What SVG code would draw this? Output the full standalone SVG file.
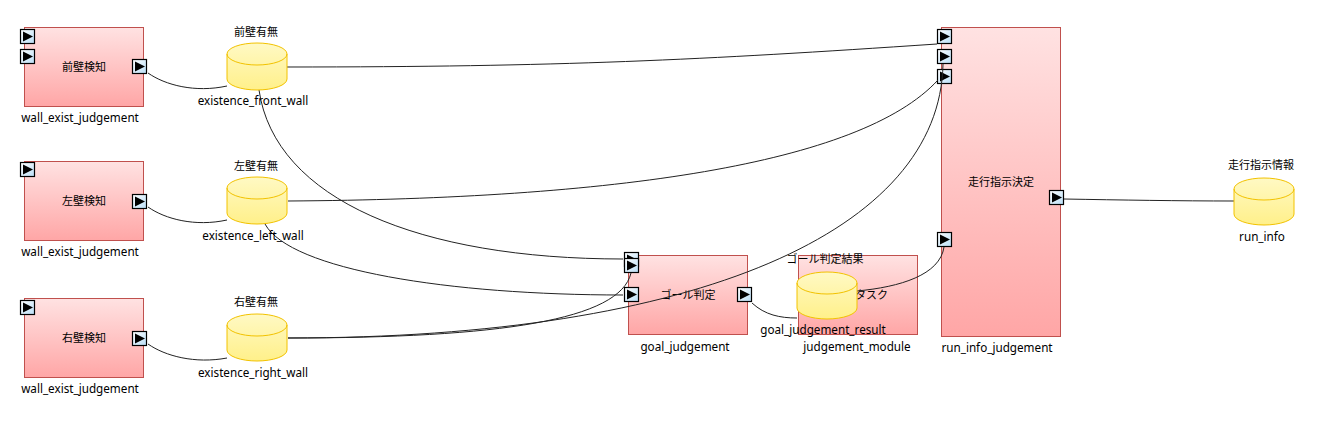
<svg xmlns="http://www.w3.org/2000/svg" xmlns:xlink="http://www.w3.org/1999/xlink" width="1321" height="421" viewBox="0 0 1321 421">
<defs>
<linearGradient id="boxg" x1="0" y1="0" x2="0" y2="1"><stop offset="0" stop-color="#ffe2e2"/><stop offset="1" stop-color="#ffa6a6"/></linearGradient>
<linearGradient id="cylg" x1="0" y1="0" x2="0" y2="1"><stop offset="0" stop-color="#fff9c4"/><stop offset="1" stop-color="#fff08a"/></linearGradient>
<linearGradient id="portg" x1="0" y1="0" x2="1" y2="1"><stop offset="0" stop-color="#ffffff"/><stop offset="1" stop-color="#b9def7"/></linearGradient>
<g id="port"><rect x="0.5" y="0.5" width="14" height="14" fill="url(#portg)" stroke="#000" stroke-width="1.2"/><polygon points="3,2.5 13,7.5 3,12.5" fill="#000"/></g>
<g id="cyl"><path d="M0,11 L0,36 A30,11 0 0 0 60,36 L60,11 A30,11 0 0 0 0,11 Z" fill="url(#cylg)" stroke="#f2c200" stroke-width="1"/><path d="M0,11 A30,11 0 0 0 60,11" fill="none" stroke="#f2c200" stroke-width="1"/></g>
</defs>
<style>
.box{fill:url(#boxg);stroke:#c0504d;stroke-width:1}
.jp{font-family:"Noto Sans CJK JP","Noto Sans",sans-serif;font-size:11px;fill:#000;text-anchor:middle}
.lb{font-family:"Noto Sans","Noto Sans CJK JP",sans-serif;font-size:11.7px;fill:#000;text-anchor:middle}
.c{fill:none;stroke:#222;stroke-width:1}
</style>
<rect width="1321" height="421" fill="#fff"/>

<g id="front_detect">
<rect class="box" x="24.5" y="27.5" width="119" height="79"/>
<use xlink:href="#port" x="20" y="29"/>
<use xlink:href="#port" x="20" y="49"/>
<use xlink:href="#port" x="132" y="59"/>
<text class="jp" x="84" y="71">前壁検知</text>
<text class="lb" x="80" y="122">wall_exist_judgement</text>
</g>
<g id="left_detect">
<rect class="box" x="24.5" y="161.5" width="119" height="79"/>
<use xlink:href="#port" x="20" y="162"/>
<use xlink:href="#port" x="132" y="194"/>
<text class="jp" x="84" y="205">左壁検知</text>
<text class="lb" x="80" y="256">wall_exist_judgement</text>
</g>
<g id="right_detect">
<rect class="box" x="24.5" y="298.5" width="119" height="79"/>
<use xlink:href="#port" x="20" y="300"/>
<use xlink:href="#port" x="132" y="331"/>
<text class="jp" x="84" y="342">右壁検知</text>
<text class="lb" x="80" y="393">wall_exist_judgement</text>
</g>
<g id="goal_judgement">
<rect class="box" x="628.5" y="255.5" width="119" height="79"/>
<use xlink:href="#port" x="624" y="252"/>
<use xlink:href="#port" x="624" y="258"/>
<use xlink:href="#port" x="624" y="287"/>
<use xlink:href="#port" x="737" y="287"/>
<text class="jp" x="688" y="299">ゴール判定</text>
<text class="lb" x="685" y="351">goal_judgement</text>
</g>
<g id="judgement_module">
<rect class="box" x="798.5" y="255.5" width="119" height="79"/>
<text class="jp" x="855" y="299" style="text-anchor:start">タスク</text>
<text class="lb" x="857" y="351">judgement_module</text>
</g>
<g id="run_info_judgement">
<rect class="box" x="941.5" y="27.5" width="119" height="309"/>
<use xlink:href="#port" x="937" y="29"/>
<use xlink:href="#port" x="937" y="49"/>
<use xlink:href="#port" x="937" y="69"/>
<use xlink:href="#port" x="937" y="232"/>
<use xlink:href="#port" x="1049" y="190"/>
<text class="jp" x="1001" y="186">走行指示決定</text>
<text class="lb" x="997" y="352">run_info_judgement</text>
</g>

<g id="connectors">
<path class="c" d="M148,73 C165,85 195,93 227,86"/>
<path class="c" d="M148,207 C165,219 195,227 227,220"/>
<path class="c" d="M148,344 C165,356 195,364 227,358"/>
<path class="c" d="M287,67 C560,67 700,60 937,44"/>
<path class="c" d="M259,90 C275,200 420,259 623,259"/>
<path class="c" d="M288,201 C610,199 860,165 938,80"/>
<path class="c" d="M265,224 C290,270 450,295 623,295"/>
<path class="c" d="M288,338 C500,338 620,320 631,273"/>
<path class="c" d="M288,338 C700,338 940,230 943,64"/>
<path class="c" d="M752,303 C765,315 780,318 797,318"/>
<path class="c" d="M857,291 C900,287 940,275 944,247"/>
<path class="c" d="M1064,199 C1120,200 1180,201 1234,201"/>
</g>

<g id="existence_front_wall">
<use xlink:href="#cyl" x="227" y="43"/>
<text class="jp" x="256" y="36">前壁有無</text>
<text class="lb" x="253" y="105">existence_front_wall</text>
</g>
<g id="existence_left_wall">
<use xlink:href="#cyl" x="227" y="177"/>
<text class="jp" x="256" y="170">左壁有無</text>
<text class="lb" x="253" y="240">existence_left_wall</text>
</g>
<g id="existence_right_wall">
<use xlink:href="#cyl" x="227" y="314"/>
<text class="jp" x="256" y="306">右壁有無</text>
<text class="lb" x="253" y="377">existence_right_wall</text>
</g>
<g id="goal_judgement_result">
<use xlink:href="#cyl" x="797" y="272"/>
<text class="jp" x="825" y="263">ゴール判定結果</text>
<text class="lb" x="823" y="334">goal_judgement_result</text>
</g>
<g id="run_info">
<use xlink:href="#cyl" x="1234" y="178"/>
<text class="jp" x="1261" y="169">走行指示情報</text>
<text class="lb" x="1262" y="241">run_info</text>
</g>
</svg>
